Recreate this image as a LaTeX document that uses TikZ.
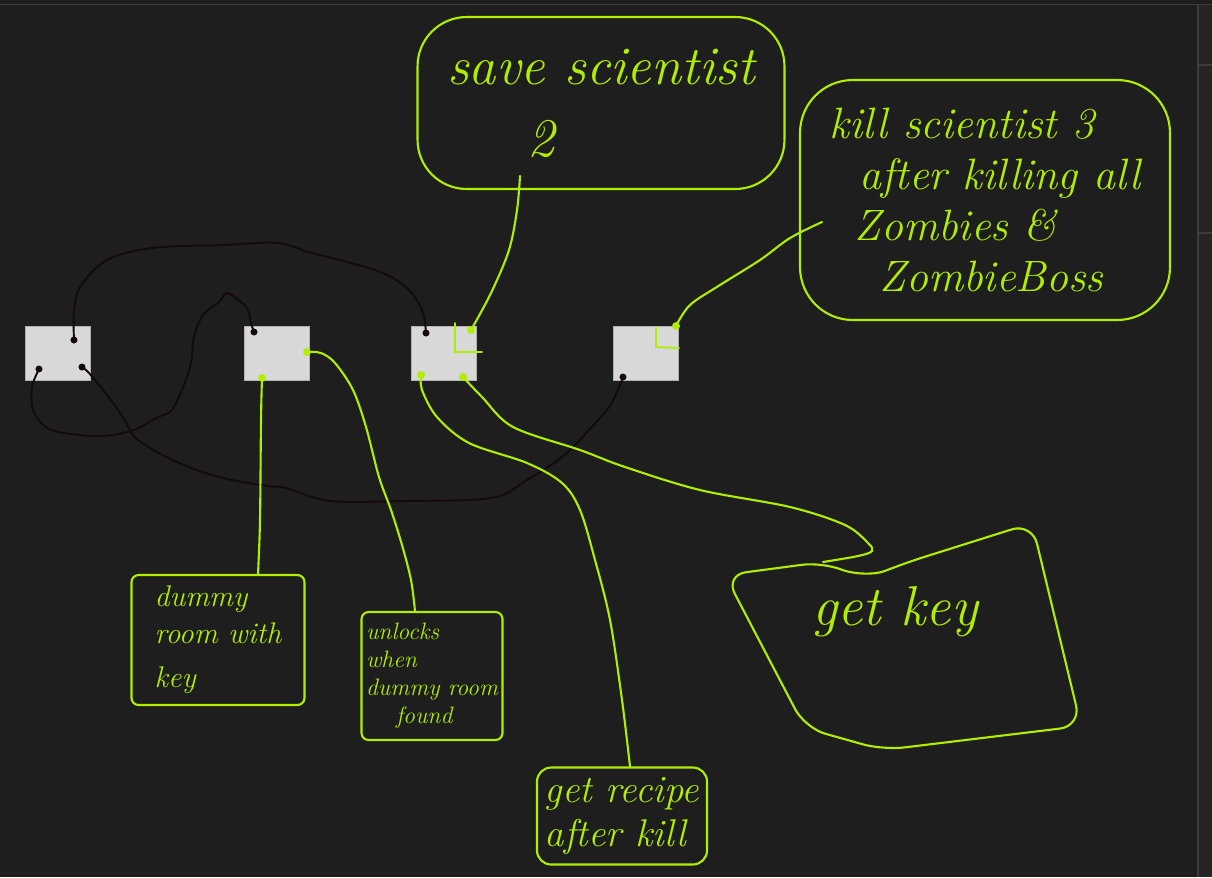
\documentclass[tikz,border=0pt]{standalone}
\usepackage{pgf,tikz}
\usetikzlibrary{positioning,shapes,fit}
\usepackage{xcolor}
\definecolor{board}{HTML}{1E1E1E}
\definecolor{lime}{HTML}{B0EE00}
\definecolor{ink}{HTML}{150A0A}
\definecolor{tile}{HTML}{D8D8D8}
\definecolor{strip}{HTML}{252526}
\definecolor{rule}{HTML}{3C3C3C}

\begin{document}
\begin{tikzpicture}[%
      x=0.02cm, y=-0.02cm,
      every node/.style={inner sep=0pt},
      room/.style={rectangle, fill=tile, draw=gray!60, line width=0.4pt, minimum width=1.3cm, minimum height=1.08cm},
      note/.style={draw=lime, line width=1.2pt, text=lime, align=left, rounded corners=10pt},
      wire/.style={draw=ink, line width=1.1pt, line cap=round},
      link/.style={draw=lime, line width=1.2pt, line cap=round},
      inkdot/.style={fill=ink, circle, minimum size=4pt},
      limedot/.style={fill=lime, circle, minimum size=4.5pt}
    ]
    \fill[board] (0,0) rectangle (1212,877);
    \useasboundingbox (0,0) rectangle (1212,877);
    \fill[strip] (1198,5) rectangle (1212,877);
    \draw[rule, line width=0.6pt] (0,4.5) -- (1212,4.5) (1198,5) -- (1198,877)
      (1198,65) -- (1212,65) (1198,233) -- (1212,233);

    \node [room] (room1) at (57.5,353) {};
    \node [room] (room2) at (276.5,353) {};
    \node [room] (room3) at (443.5,353) {};
    \node [room] (room4) at (645.5,353) {};

    \node [note, rounded corners=28pt, minimum width=7.34cm, minimum height=3.44cm,
      font=\itshape\fontsize{31}{35}\selectfont] (save) at (601,103)
      {save scientist\\[6pt]\hspace{1.6cm}2};
    \node [note, rounded corners=30pt, minimum width=7.4cm, minimum height=4.8cm,
      font=\itshape\fontsize{25}{29}\selectfont] (kill) at (985,200)
      {kill scientist 3\\\hspace{0.6cm}after killing all\\\hspace{0.5cm}Zombies \&\\\hspace{1.0cm}ZombieBoss};
    \node [note, rounded corners=4pt, minimum width=3.46cm, minimum height=2.6cm,
      font=\itshape\fontsize{17}{21}\selectfont] (dummy) at (218,640)
      {dummy\\room with\\[4pt]key};
    \node [note, rounded corners=4pt, minimum width=2.82cm, minimum height=2.56cm,
      font=\itshape\fontsize{13.5}{16}\selectfont] (unlocks) at (432,676)
      {unlocks\\when\\dummy room\\\hspace{0.6cm}found};
    \node [note, rounded corners=8pt, minimum width=3.4cm, minimum height=1.94cm,
      font=\itshape\fontsize{22}{25}\selectfont] (recipe) at (622,816)
      {get recipe\\after kill};
    \node [text=lime, font=\itshape\fontsize{32}{36}\selectfont] (getkey) at (895,612) {get key};
    \draw [link, rounded corners=12pt] (725,575) -- (823,562)
      .. controls (850,573) and (872,576) .. (905,563) -- (1032,523) -- (1081,726)
      -- (883,750) -- (805,728) -- cycle;

    \coordinate (r1a) at (74,340);
    \coordinate (r1b) at (39,369);
    \coordinate (r1c) at (82,367);
    \coordinate (r2a) at (254,332);
    \coordinate (r2b) at (262,378);
    \coordinate (r2c) at (307,352);
    \coordinate (r3a) at (426,333);
    \coordinate (r3b) at (471,330);
    \coordinate (r3c) at (421,375);
    \coordinate (r3d) at (463,377);
    \coordinate (r4a) at (623,377);
    \coordinate (r4b) at (676,326);
    \coordinate (savefoot) at (520,176);
    \coordinate (killside) at (822,222);
    \coordinate (keytab) at (823,562);

    \draw [wire] plot[smooth, tension=0.55] coordinates {(r1a) (74,313) (80,287) (107,260) (152,248)
      (223,245) (277,243) (312,253) (375,270) (406,287) (422,310) (r3a)};
    \draw [wire] plot[smooth, tension=0.55] coordinates {(r1b) (32,387) (33,410) (47,428) (71,434)
      (103,436) (134,430) (158,417) (172,410) (183,387) (191,363) (194,337) (203,315) (219,302)
      (227,293) (241,302) (248,310) (251,323) (r2a)};
    \draw [wire] plot[smooth, tension=0.55] coordinates {(r1c) (89,373) (107,395) (123,417) (138,440)
      (179,463) (223,478) (268,486) (286,488) (330,501) (402,501) (491,498) (527,480) (562,457)
      (589,430) (609,407) (618,390) (r4a)};

    \draw [link] plot[smooth, tension=0.55] coordinates {(r3b) (491,293) (509,250) (517,210) (savefoot)};
    \draw [link] plot[smooth, tension=0.55] coordinates {(r4b) (690,305) (720,285) (760,260) (790,238) (killside)};
    \draw [link] plot[smooth, tension=0.55] coordinates {(r2b) (261,420) (260,520) (dummy.north -| 258,0)};
    \draw [link] plot[smooth, tension=0.55] coordinates {(r2c) (321,353) (335,363) (353,390) (366,427)
      (379,477) (391,510) (402,545) (411,580) (unlocks.north -| 415,0)};
    \draw [link] plot[smooth, tension=0.55] coordinates {(r3c) (422,390) (437,417) (469,443) (527,463)
      (562,483) (580,510) (595,560) (610,620) (622,700) (recipe.north -| 630,0)};
    \draw [link] plot[smooth, tension=0.55] coordinates {(r3d) (482,397) (513,427) (580,450) (625,467)
      (700,490) (790,507) (845,525) (868,543) (872,551) (858,556) (keytab)};

    \draw [link, line width=1pt] (455,323) -- (455,352) -- (482,352);
    \draw [link, line width=1pt] (656,327) -- (656,347) -- (679,348);

    \foreach \p in {r1a,r1b,r1c,r2a,r3a,r4a} \node [inkdot] at (\p) {};
    \foreach \p in {r2b,r2c,r3b,r3c,r3d,r4b} \node [limedot] at (\p) {};
  \end{tikzpicture}
\end{document}
